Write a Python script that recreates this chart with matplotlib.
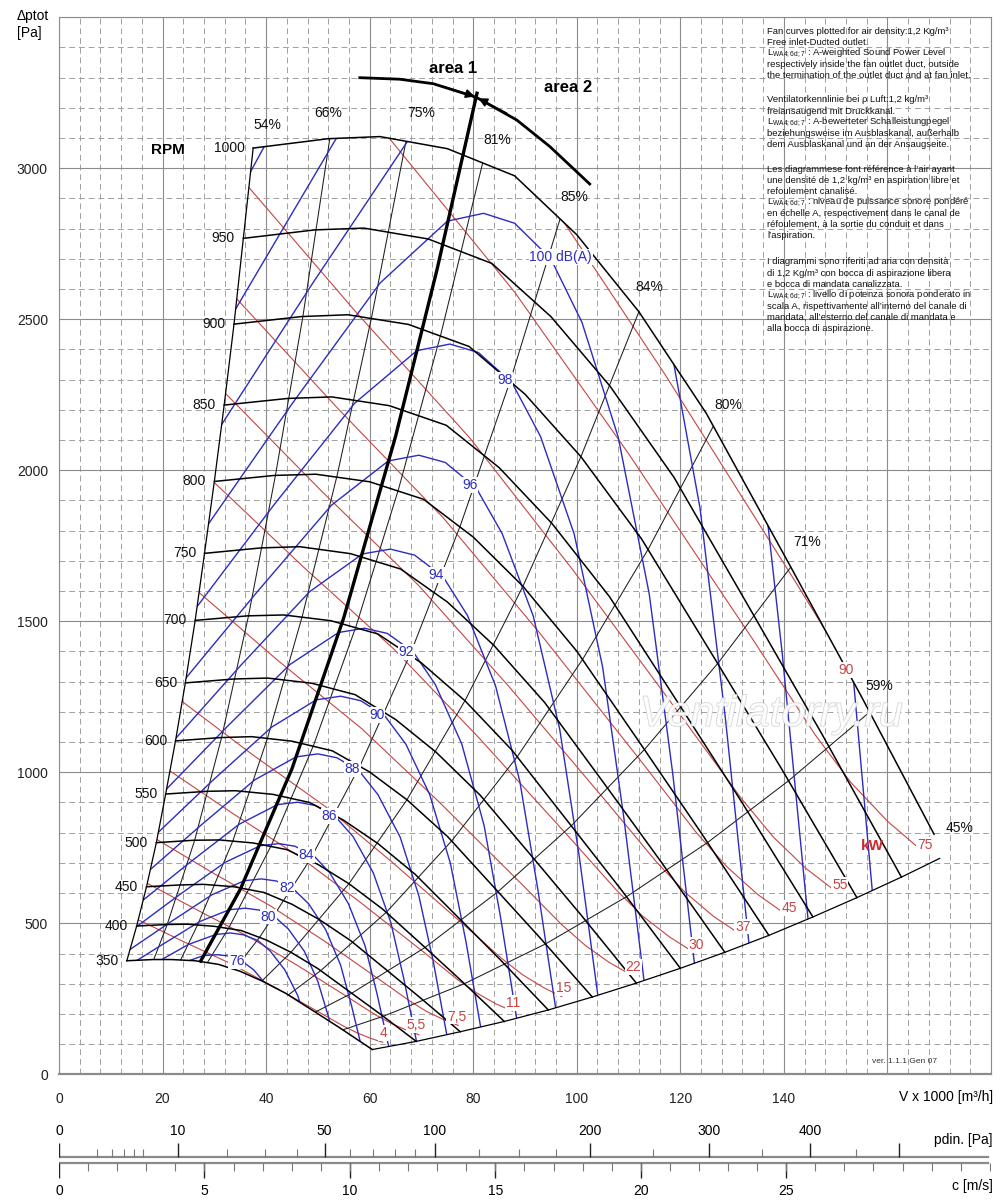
import matplotlib
matplotlib.use("Agg")
import matplotlib.pyplot as plt
import matplotlib.patheffects as pe
from matplotlib.patches import Polygon
import numpy as np

plt.rcParams['font.family'] = ['Liberation Sans', 'DejaVu Sans']
plt.rcParams['mathtext.fontset'] = 'custom'
plt.rcParams['mathtext.rm'] = 'Liberation Sans'

# fan curves, V in 1000 m3/h, total pressure in Pa
rpm = [350, 400, 450, 500, 550, 600, 650, 700, 750, 800, 850, 900, 950, 1000]
rpm_V = [
    [13.1, 18.2, 21.7, 26.3, 30.8, 35.0, 39.2, 43.8, 49.4, 54.3, 60.5],
    [15.0, 20.8, 24.8, 30.0, 35.2, 40.0, 44.8, 50.0, 56.4, 62.0, 69.0],
    [16.9, 23.4, 27.9, 33.8, 39.6, 45.0, 50.4, 56.3, 63.5, 69.8, 77.5],
    [18.8, 26.0, 31.0, 37.5, 44.0, 50.0, 56.0, 62.5, 70.5, 77.5, 86.0],
    [20.6, 28.6, 34.1, 41.3, 48.4, 55.0, 61.6, 68.8, 77.6, 85.3, 94.5],
    [22.5, 31.2, 37.2, 45.0, 52.8, 60.0, 67.2, 75.0, 84.6, 93.0, 103.0],
    [24.4, 33.8, 40.3, 48.8, 57.2, 65.0, 72.8, 81.3, 91.7, 100.8, 111.5],
    [26.3, 36.4, 43.4, 52.5, 61.6, 70.0, 78.4, 87.5, 98.7, 108.5, 120.0],
    [28.1, 39.0, 46.5, 56.3, 66.0, 75.0, 84.0, 93.8, 105.8, 116.3, 128.6],
    [30.0, 41.6, 49.6, 60.0, 70.4, 80.0, 89.6, 100.0, 112.8, 124.0, 137.1],
    [31.9, 44.2, 52.7, 63.8, 74.8, 85.0, 95.2, 106.3, 119.9, 131.8, 145.6],
    [33.8, 46.8, 55.8, 67.5, 79.2, 90.0, 100.8, 112.5, 126.9, 139.5, 154.1],
    [35.6, 49.4, 58.9, 71.3, 83.6, 95.0, 106.4, 118.8, 134.0, 147.3, 162.7],
    [37.5, 52.0, 62.0, 75.0, 88.0, 100.0, 112.0, 125.0, 141.0, 155.0, 169.0],
]
rpm_P = [
    [376, 380, 380, 376, 364, 341, 309, 268, 207, 153, 82],
    [491, 496, 497, 490, 476, 445, 404, 350, 270, 200, 109],
    [621, 627, 629, 621, 602, 563, 511, 443, 342, 253, 141],
    [767, 775, 776, 766, 744, 695, 631, 547, 423, 313, 175],
    [928, 937, 939, 927, 900, 841, 764, 662, 511, 378, 213],
    [1104, 1115, 1118, 1103, 1071, 1001, 909, 788, 608, 450, 256],
    [1296, 1309, 1312, 1295, 1257, 1175, 1067, 925, 714, 528, 302],
    [1503, 1518, 1521, 1502, 1458, 1362, 1237, 1073, 828, 613, 351],
    [1725, 1743, 1747, 1724, 1673, 1564, 1420, 1231, 951, 703, 404],
    [1963, 1983, 1987, 1962, 1904, 1779, 1616, 1401, 1082, 800, 460],
    [2216, 2238, 2243, 2214, 2149, 2009, 1824, 1582, 1221, 903, 521],
    [2484, 2509, 2515, 2483, 2410, 2252, 2045, 1773, 1369, 1013, 585],
    [2768, 2796, 2802, 2766, 2685, 2509, 2279, 1976, 1525, 1128, 653],
    [3067, 3098, 3105, 3065, 2975, 2780, 2525, 2189, 1690, 1250, 795],
]
end_tip = (170.1, 715)

# efficiency lines
eff_names = ['54%', '66%', '75%', '81%', '85%', '84%', '80%', '71%', '59%', '45%']
eff_label_V = [40.3, 51.9, 69.9, 84.7, 99.6, 114.1, 129.3, 144.4, 158.5, 173.9]
eff_label_P = [3143, 3183, 3183, 3094, 2905, 2607, 2216, 1762, 1286, 815]
eff_V = [
    [52.3, 47.1, 41.8, 36.6, 31.4, 26.2, 20.9, 18.3],
    [67.1, 60.4, 53.7, 47.0, 40.3, 33.6, 26.8, 23.5],
    [82.0, 73.8, 65.6, 57.4, 49.2, 41.0, 32.8, 28.7],
    [97.0, 87.3, 77.6, 67.9, 58.2, 48.5, 38.8, 34.0],
    [112.0, 100.8, 89.6, 78.4, 67.2, 56.0, 44.8, 39.2],
    [126.5, 113.9, 101.2, 88.6, 75.9, 63.3, 50.6, 44.3],
    [141.4, 127.3, 113.1, 99.0, 84.8, 70.7, 56.6, 49.5],
    [156.6, 140.9, 125.3, 109.6, 94.0, 78.3, 62.6, 54.8],
]
eff_P = [
    [3098, 2509, 1983, 1518, 1115, 775, 496, 380],
    [3097, 2509, 1982, 1518, 1115, 774, 496, 379],
    [3030, 2454, 1939, 1485, 1091, 758, 485, 371],
    [2845, 2304, 1821, 1394, 1024, 711, 455, 349],
    [2525, 2045, 1616, 1237, 909, 631, 404, 309],
    [2150, 1742, 1376, 1054, 774, 538, 344, 263],
    [1681, 1362, 1076, 824, 605, 420, 269, 206],
    [1200, 972, 768, 588, 432, 300, 192, 147],
]

# sound power level lines, dB(A)
db_levels = [76, 78, 80, 82, 84, 86, 88, 90, 92, 94, 96, 98, 100, 102, 104, 106, 108]
db_V = [
    [9.7, 16.7, 23.1, 27.9, 30.5, 32.7, 35.3, 37.6, 40.2, 42.4, 44.1, 45.9],
    [10.5, 18.2, 25.0, 30.3, 33.1, 35.6, 38.4, 40.8, 43.6, 46.1, 47.9, 49.9],
    [11.4, 19.8, 27.2, 32.9, 36.0, 38.6, 41.7, 44.3, 47.4, 50.0, 52.0, 54.2],
    [12.4, 21.5, 29.6, 35.8, 39.1, 42.0, 45.3, 48.2, 51.5, 54.4, 56.5, 58.9],
    [13.5, 23.3, 32.1, 38.9, 42.5, 45.6, 49.2, 52.3, 55.9, 59.1, 61.4, 64.0],
    [14.6, 25.3, 34.8, 42.2, 46.1, 49.5, 53.4, 56.8, 60.7, 64.1, 66.6, 69.4],
    [15.9, 27.5, 37.8, 45.8, 50.0, 53.7, 58.0, 61.6, 65.9, 69.5, 72.3, 75.3],
    [17.2, 29.8, 41.1, 49.7, 54.4, 58.3, 63.0, 67.0, 71.6, 75.6, 78.6, 81.9],
    [18.7, 32.4, 44.6, 54.0, 59.0, 63.4, 68.4, 72.7, 77.8, 82.1, 85.3, 88.9],
    [20.3, 35.1, 48.4, 58.6, 64.0, 68.7, 74.2, 78.9, 84.3, 89.0, 92.5, 96.5],
    [22.0, 38.2, 52.6, 63.6, 69.5, 74.6, 80.6, 85.6, 91.6, 96.7, 100.5, 104.7],
    [23.9, 41.4, 57.1, 69.1, 75.5, 81.0, 87.5, 93.0, 99.5, 105.0, 109.1, 113.7],
    [26.0, 45.0, 62.0, 75.0, 82.0, 88.0, 95.0, 101.0, 108.0, 114.0, 118.5, 123.5],
    [28.2, 48.9, 67.3, 81.5, 89.1, 95.6, 103.2, 109.7, 117.3, 123.8, 128.7, 134.1],
    [30.7, 53.1, 73.1, 88.4, 96.7, 103.8, 112.0, 119.1, 127.3, 134.4, 139.7, 145.6],
    [33.3, 57.6, 79.4, 96.0, 105.0, 112.6, 121.6, 129.3, 138.2, 145.9, 151.7, 158.1],
    [36.1, 62.6, 86.2, 104.3, 114.0, 122.3, 132.1, 140.4, 150.1, 158.5, 164.7, 171.7],
]
db_P = [
    [244, 309, 364, 393, 396, 392, 375, 346, 293, 221, 139, 35],
    [287, 364, 430, 463, 468, 462, 443, 408, 346, 261, 164, 41],
    [338, 428, 506, 545, 550, 544, 521, 481, 407, 307, 193, 48],
    [398, 504, 595, 641, 647, 640, 613, 565, 479, 361, 227, 57],
    [470, 595, 702, 757, 764, 755, 724, 667, 565, 426, 268, 67],
    [554, 702, 828, 893, 901, 890, 853, 787, 667, 502, 316, 79],
    [652, 826, 975, 1051, 1061, 1048, 1004, 926, 785, 591, 372, 93],
    [769, 975, 1150, 1240, 1252, 1237, 1185, 1093, 926, 698, 439, 110],
    [908, 1150, 1357, 1463, 1477, 1460, 1399, 1290, 1093, 824, 518, 130],
    [1069, 1354, 1598, 1723, 1739, 1719, 1647, 1519, 1287, 970, 610, 153],
    [1260, 1596, 1884, 2031, 2050, 2026, 1941, 1790, 1517, 1143, 719, 180],
    [1486, 1883, 2222, 2396, 2418, 2390, 2290, 2112, 1789, 1348, 848, 212],
    [1752, 2220, 2620, 2825, 2851, 2818, 2700, 2490, 2110, 1590, 1000, 250],
    [2066, 2617, 3089, 3331, 3361, 3322, 3183, 2936, 2488, 1875, 1179, 295],
    [2435, 3086, 3642, 3927, 3963, 3917, 3753, 3461, 2933, 2210, 1390, 348],
    [2872, 3639, 4294, 4630, 4673, 4619, 4425, 4081, 3458, 2606, 1639, 410],
    [3385, 4289, 5062, 5458, 5508, 5444, 5216, 4811, 4077, 3072, 1932, 483],
]
db_names = ['76', '80', '82', '84', '86', '88', '90', '92', '94', '96', '98', '100 dB(A)']
db_label_V = [34.3, 40.4, 44.0, 47.8, 52.2, 56.7, 61.4, 67.1, 72.9, 79.3, 86.1, 96.9]
db_label_P = [376, 522, 616, 726, 855, 1010, 1190, 1399, 1653, 1952, 2300, 2707]

# absorbed power lines, kW
kw_names = ['4', '5,5', '7,5', '11', '15', '22', '30', '37', '45', '55', '75', '90']
kw_V = [
    [14.3, 24.1, 33.1, 41.4, 50.4, 55.0, 57.6, 60.2, 62.5],
    [15.9, 26.8, 36.8, 46.1, 56.1, 61.1, 64.1, 67.0, 69.5],
    [17.6, 29.7, 40.8, 51.1, 62.2, 67.8, 71.0, 74.3, 77.1],
    [20.0, 33.8, 46.4, 58.0, 70.7, 77.0, 80.7, 84.4, 87.6],
    [22.2, 37.4, 51.5, 64.3, 78.4, 85.4, 89.5, 93.6, 97.1],
    [25.3, 42.5, 58.5, 73.1, 89.0, 97.0, 101.7, 106.3, 110.3],
    [28.0, 47.2, 64.8, 81.0, 98.7, 107.6, 112.7, 117.9, 122.3],
    [30.0, 50.6, 69.5, 86.9, 105.9, 115.4, 120.9, 126.4, 131.2],
    [32.0, 54.0, 74.2, 92.8, 113.0, 123.1, 129.0, 134.9, 140.0],
    [34.3, 57.7, 79.4, 99.2, 120.8, 131.7, 138.0, 144.3, 149.7],
    [38.0, 64.0, 88.0, 110.0, 134.0, 146.0, 153.0, 160.0, 166.0],
    [40.4, 68.0, 93.5, 116.9, 142.4, 155.2, 162.6, 170.0, 176.4],
]
kw_P = [
    [520, 439, 367, 291, 204, 159, 137, 119, 106],
    [643, 543, 454, 360, 252, 197, 169, 147, 131],
    [791, 667, 558, 443, 310, 242, 208, 181, 162],
    [1021, 861, 721, 572, 401, 313, 269, 233, 209],
    [1255, 1058, 886, 703, 492, 385, 330, 287, 257],
    [1621, 1367, 1144, 907, 636, 497, 426, 370, 331],
    [1992, 1680, 1406, 1116, 782, 611, 524, 455, 407],
    [2292, 1933, 1618, 1284, 899, 703, 603, 523, 468],
    [2611, 2202, 1843, 1462, 1024, 800, 687, 596, 534],
    [2984, 2517, 2106, 1671, 1171, 915, 785, 681, 610],
    [3670, 3095, 2590, 2055, 1440, 1125, 965, 838, 750],
    [4145, 3495, 2925, 2321, 1626, 1270, 1090, 946, 847],
]
kw_label_V = [62.6, 69.0, 76.8, 87.7, 97.4, 110.9, 123.1, 132.1, 141.0, 150.8, 167.2, 152.1]
kw_label_P = [136, 163, 191, 237, 285, 356, 428, 489, 550, 627, 759, 1339]

# area 1 / area 2 limit line and arc
area_V = [27.2, 35, 45, 55, 65, 73, 80.8]
area_P = [370, 612, 1012, 1512, 2112, 2664, 3254]
arc_V = [58.1, 65.8, 72.3, 80.6, 88.4, 94.8, 102.5]
arc_P = [3300, 3295, 3280, 3235, 3160, 3072, 2948]

# lower scales
c_per_v = 0.178      # outlet velocity m/s per 1000 m3/h
pd_per_c2 = 0.6      # dynamic pressure Pa per (m/s)^2, 1.2 kg/m3
c_minor = list(range(1, 33))
c_major = [0, 5, 10, 15, 20, 25]
pd_major = [0, 10, 50, 100, 200, 300, 400, 500]
pd_minor = [1, 2, 3, 4, 5, 20, 30, 40, 60, 70, 80, 90, 125, 150, 175, 250, 350, 450]
pd_text = [0, 10, 50, 100, 200, 300, 400]

info = [
    ['Fan curves plotted for air density:1,2 Kg/m³',
     'Free inlet-Ducted outlet.',
     r'L$_{\rm WA4;6d;7}$ : A-weighted Sound Power Level',
     'respectively inside the fan outlet duct, outside',
     'the termination of the outlet duct and at fan inlet.'],
    ['Ventilatorkennlinie bei ρ Luft:1,2 kg/m³',
     'freiansaugend mit Druckkanal.',
     r'L$_{\rm WA4;6d;7}$ : A-bewerteter Schalleistungpegel',
     'beziehungsweise im Ausblaskanal, außerhalb',
     'dem Ausblaskanal und an der Ansaugseite.'],
    ['Les diagrammese font référence à l’air ayant',
     'une densité de 1,2 kg/m³ en aspiration libre et',
     'refoulement canalisé.',
     r'L$_{\rm WA4;6d;7}$ : niveau de puissance sonore pondéré',
     'en échelle A, respectivement dans le canal de',
     'réfoulement, à la sortie du conduit et dans',
     'l’aspiration.'],
    ['I diagrammi sono riferiti ad aria con densità',
     'di 1,2 Kg/m³ con bocca di aspirazione libera',
     'e bocca di mandata canalizzata.',
     r'L$_{\rm WA4;6d;7}$ : livello di potenza sonora ponderato in',
     'scala A, rispettivamente all’interno del canale di',
     'mandata, all’esterno del canale di mandata e',
     'alla bocca di aspirazione.'],
]

BLUE = '#2c2cc0'
RED = '#c64444'
H = 1204.0

fig = plt.figure(figsize=(10, 12.04), dpi=100)
ax = fig.add_axes([0.059, 1 - 1074.3 / H, 0.932, 1057.0 / H])
ax.set_xlim(0, 180)
ax.set_ylim(0, 3500)
ax.set_xticks(np.arange(0, 181, 20))
ax.set_xticks(np.arange(0, 181, 4), minor=True)
ax.set_yticks(np.arange(0, 3501, 500))
ax.set_yticks(np.arange(0, 3501, 100), minor=True)
ax.set_xticklabels([str(v) if v <= 140 else '' for v in range(0, 181, 20)])
ax.set_yticklabels([str(v) if v <= 3000 else '' for v in range(0, 3501, 500)])
ax.tick_params(which='both', length=0, labelsize=10, labelcolor='#222222')
ax.tick_params(axis='x', pad=13)
ax.tick_params(axis='y', pad=8)
ax.grid(which='major', color='#8c8c8c', lw=0.8)
ax.grid(which='minor', color='#a0a0a0', lw=0.7, ls=(0, (6, 4)))
ax.set_axisbelow(True)
for sp in ax.spines.values():
    sp.set_color('#8c8c8c')
    sp.set_linewidth(0.8)
ax.spines['bottom'].set_linewidth(1.6)

# operating field used to trim the inner lines
starts = [(v[0], p[0]) for v, p in zip(rpm_V, rpm_P)]
ends = [(v[-1], p[-1]) for v, p in zip(rpm_V[:-1], rpm_P[:-1])] + [end_tip]
env = (starts + list(zip(rpm_V[-1], rpm_P[-1])) + ends[::-1]
       + list(zip(rpm_V[0][::-1], rpm_P[0][::-1])))
field = Polygon(env, closed=True, fc='none', ec='none')
ax.add_patch(field)

for V, P in zip(kw_V, kw_P):
    ln, = ax.plot(V, P, color=RED, lw=0.8, zorder=2)
    ln.set_clip_path(field)

for V, P in zip(eff_V, eff_P):
    ln, = ax.plot(V, P, color='#1e1e1e', lw=0.75, zorder=2.5)
    ln.set_clip_path(field)

for V, P in zip(db_V, db_P):
    ln, = ax.plot(V, P, color=BLUE, lw=1.0, zorder=3)
    ln.set_clip_path(field)

for V, P in zip(rpm_V, rpm_P):
    ax.plot(V, P, color='black', lw=1.1, zorder=4)
ax.plot([s[0] for s in starts], [s[1] for s in starts], color='black', lw=0.9, zorder=4)
ax.plot([e[0] for e in ends], [e[1] for e in ends], color='black', lw=0.9, zorder=4)

ax.plot(area_V, area_P, color='black', lw=2.4, zorder=5, solid_capstyle='butt')
ax.plot(arc_V, arc_P, color='black', lw=2.0, zorder=5)
arrow = dict(arrowstyle='-|>', color='black', lw=1.2, mutation_scale=13, shrinkA=0, shrinkB=0)
ax.annotate('', xy=(80.3, 3238), xytext=(74.0, 3272), arrowprops=arrow, zorder=5)
ax.annotate('', xy=(81.0, 3232), xytext=(86.5, 3182), arrowprops=arrow, zorder=5)
ax.text(76.1, 3332, 'area 1', fontsize=12, fontweight='bold', ha='center', va='center')
ax.text(98.3, 3269, 'area 2', fontsize=12, fontweight='bold', ha='center', va='center')

# labels
for r, (v, p) in zip(rpm, starts):
    ax.annotate(str(r), (v, p), xytext=(-6, 0), textcoords='offset points',
                ha='right', va='center', fontsize=10, color='#111111')
ax.text(21.0, 3060, 'RPM', fontsize=11, fontweight='bold', ha='center', va='center')

for name, v, p in zip(eff_names, eff_label_V, eff_label_P):
    ax.text(v, p, name, fontsize=10, ha='center', va='center', color='#111111', zorder=6)

for name, v, p in zip(db_names, db_label_V, db_label_P):
    ax.text(v, p, name, fontsize=10, ha='center', va='center', color=BLUE, zorder=6,
            bbox=dict(fc='white', ec='none', pad=0.6))

for name, v, p in zip(kw_names, kw_label_V, kw_label_P):
    ax.text(v, p, name, fontsize=10, ha='center', va='center', color=RED, zorder=6,
            bbox=dict(fc='white', ec='none', pad=0.6))
ax.text(157.1, 756, 'kW', fontsize=11, fontweight='bold', color='#d02828', ha='center', va='center', zorder=6)

ax.text(163.3, 41, 'ver. 1.1.1 Gen 07', fontsize=6, ha='center', va='center', color='#333333')
ax.text(137.5, 1190, 'Ventilatorry.ru', fontsize=31, style='italic', ha='center', va='center',
        color='white', alpha=0.75, zorder=8,
        path_effects=[pe.withStroke(linewidth=1.0, foreground='#c8c8c8')])

# side notes
para_top = [31, 100, 169, 262]
for lines, y0 in zip(info, para_top):
    for i, line in enumerate(lines):
        fig.text(0.767, 1 - (y0 + i * 11.1) / H, line, fontsize=6.8, ha='left', va='center', color='#111111')

fig.text(0.017, 1 - 16 / H, 'Δptot', fontsize=10, ha='left', va='center')
fig.text(0.017, 1 - 33 / H, '[Pa]', fontsize=10, ha='left', va='center')
fig.text(0.993, 1 - 1097 / H, 'V x 1000 [m³/h]', fontsize=10, ha='right', va='center')
fig.text(0.993, 1 - 1140 / H, 'pdin. [Pa]', fontsize=10, ha='right', va='center')
fig.text(0.993, 1 - 1186 / H, 'c [m/s]', fontsize=10, ha='right', va='center')

# dynamic pressure and outlet velocity scales
axb = fig.add_axes([0.059, 0, 0.932, 100 / H])
axb.set_xlim(0, 180 * c_per_v)
axb.set_ylim(1204, 1104)
axb.axis('off')
cmax = 180 * c_per_v
axb.plot([0, cmax * 0.997], [1157, 1157], color='#8a8a8a', lw=1.6)
axb.plot([0, cmax * 0.997], [1163, 1163], color='#8a8a8a', lw=1.6)
pd_pos = lambda vals: np.sqrt(np.array(vals, dtype=float) / pd_per_c2)
axb.vlines(pd_pos(pd_major), 1143, 1157, color='#222222', lw=1.0)
axb.vlines(pd_pos(pd_minor), 1149, 1157, color='#777777', lw=0.8)
for v, x in zip(pd_text, pd_pos(pd_text)):
    axb.text(x, 1131, str(v), fontsize=10, ha='center', va='center')
axb.vlines(c_major, 1163, 1178, color='#222222', lw=1.0)
axb.vlines(c_minor, 1163, 1171, color='#777777', lw=0.8)
for v in c_major:
    axb.text(v, 1191, str(v), fontsize=10, ha='center', va='center')

fig.savefig('out.png', dpi=100)
